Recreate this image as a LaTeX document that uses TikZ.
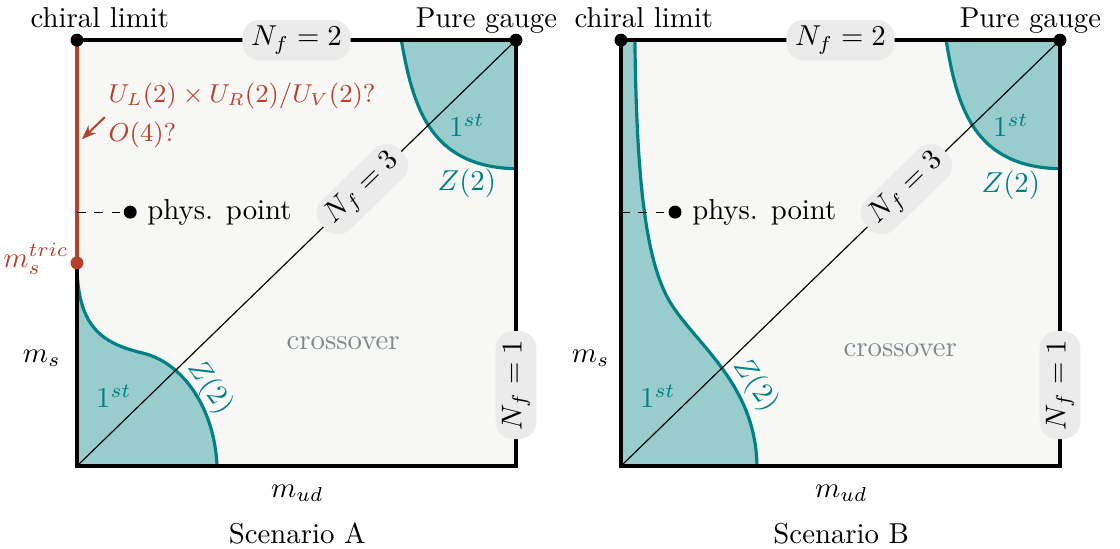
\documentclass[tikz,border=0pt]{standalone}
\usepackage{amsmath,amssymb}
\usepackage{xcolor}
\usetikzlibrary{positioning, calc, arrows.meta}
\definecolor{cT}{RGB}{0,128,128}
\definecolor{cR}{RGB}{181,64,43}
\definecolor{cG}{RGB}{128,138,136}
\definecolor{cB}{RGB}{247,247,245}
\definecolor{cL}{RGB}{235,235,235}

\begin{document}
\begin{tikzpicture}[
    border/.style={line width=1.6pt},
    nflabel/.style={fill=cL, rounded corners=6pt, inner xsep=3pt, inner ysep=2.2pt},
    dot/.style={circle, fill=black, inner sep=0pt, minimum size=4.5pt},
    crit/.style={draw=cT, line width=1.1pt},
    firstorder/.style={fill=cT!40},
    tlabel/.style={text=cT}]

    \useasboundingbox (-0.94,-1.013) rectangle (12.735,5.69);

    % Scenario A
    \coordinate (BLA) at (0,0);
    \coordinate (BRA) at (5.36,0);
    \coordinate (TRA) at (5.36,5.2);
    \coordinate (TLA) at (0,5.2);
    \coordinate (MTA) at (0,2.48);
    \coordinate (PPA) at (0.65,3.10);
    \coordinate (PLA) at (0,3.10);
    \coordinate (ARA) at (0.34,4.26);
    \coordinate (AHA) at (0.06,3.99);

    \fill[cB] (BLA) rectangle (TRA);

    % first order regions
    \fill[firstorder] (MTA) .. controls (0,1.7) and (0.3,1.5) .. (0.8,1.38)
        .. controls (1.3,1.26) and (1.68,0.7) .. (1.71,0) -- (BLA) -- cycle;
    \draw[crit] (MTA) .. controls (0,1.7) and (0.3,1.5) .. (0.8,1.38)
        .. controls (1.3,1.26) and (1.68,0.7) .. (1.71,0);
    \fill[firstorder] (3.96,5.2) .. controls (4.1,4.4) and (4.3,3.65) .. (5.36,3.63) -- (TRA) -- cycle;
    \draw[crit] (3.96,5.2) .. controls (4.1,4.4) and (4.3,3.65) .. (5.36,3.63);

    % Nf lines
    \draw[line width=0.4pt] (BLA) -- node[nflabel, sloped, pos=0.65] {$N_f=3$} (TRA);
    \draw[border] (MTA) -- (BLA) -- (BRA)
        -- node[nflabel, sloped, pos=0.19] {$N_f=1$} (TRA)
        -- node[nflabel] {$N_f=2$} (TLA);
    \draw[border, cR] (TLA) -- (MTA);
    \draw[dashed] (PLA) -- (PPA);
    \draw[cR, line width=0.7pt, -{Stealth[length=5pt]}] (ARA) -- (AHA);

    % points
    \node[dot] (chiralA) at (TLA) {};
    \node[dot] (gaugeA) at (TRA) {};
    \node[dot, fill=cR] (tricA) at (MTA) {};
    \node[dot] (physA) at (PPA) {};

    % labels
    \node[anchor=base] at (0.28,5.36) {chiral limit};
    \node[anchor=base] at (5.0,5.36) {Pure gauge};
    \node[right=0pt of physA] {phys. point};
    \node[anchor=base east, text=cR, inner sep=1pt] at (-0.06,2.43) {$m_s^{tric}$};
    \node[anchor=base west, text=cR, inner sep=0pt, font=\small] at (0.38,4.44) {$U_L(2)\times U_R(2)/U_V(2)?$};
    \node[anchor=base west, text=cR, inner sep=0pt, font=\small] at (0.38,3.96) {$O(4)?$};
    \node[tlabel] at (0.45,0.85) {$1^{st}$};
    \node[tlabel, rotate=-55] at (1.62,0.96) {$Z(2)$};
    \node[tlabel] at (4.76,4.16) {$1^{st}$};
    \node[tlabel] at (4.76,3.45) {$Z(2)$};
    \node[text=cG, anchor=base] at (3.25,1.42) {crossover};
    \node[anchor=base] at (-0.43,1.27) {$m_s$};
    \node[anchor=base] at (2.69,-0.38) {$m_{ud}$};
    \node[anchor=base] at (2.69,-0.95) {Scenario A};

    % Scenario B
    \begin{scope}[xshift=6.642cm]
    \coordinate (BLB) at (0,0);
    \coordinate (BRB) at (5.36,0);
    \coordinate (TRB) at (5.36,5.2);
    \coordinate (TLB) at (0,5.2);
    \coordinate (PPB) at (0.66,3.10);
    \coordinate (PLB) at (0,3.10);

    \fill[cB] (BLB) rectangle (TRB);

    % first order regions
    \fill[firstorder] (0.17,5.2) .. controls (0.19,3.5) and (0.3,2.5) .. (0.6,2.0)
        .. controls (0.9,1.5) and (1.65,1.0) .. (1.66,0) -- (BLB) -- (TLB) -- cycle;
    \draw[crit] (0.17,5.2) .. controls (0.19,3.5) and (0.3,2.5) .. (0.6,2.0)
        .. controls (0.9,1.5) and (1.65,1.0) .. (1.66,0);
    \fill[firstorder] (3.97,5.2) .. controls (4.1,4.4) and (4.3,3.65) .. (5.36,3.63) -- (TRB) -- cycle;
    \draw[crit] (3.97,5.2) .. controls (4.1,4.4) and (4.3,3.65) .. (5.36,3.63);

    % Nf lines
    \draw[line width=0.4pt] (BLB) -- node[nflabel, sloped, pos=0.65] {$N_f=3$} (TRB);
    \draw[border] (TLB) -- (BLB) -- (BRB)
        -- node[nflabel, sloped, pos=0.19] {$N_f=1$} (TRB)
        -- node[nflabel] {$N_f=2$} (TLB);
    \draw[dashed] (PLB) -- (PPB);

    % points
    \node[dot] (chiralB) at (TLB) {};
    \node[dot] (gaugeB) at (TRB) {};
    \node[dot] (physB) at (PPB) {};

    % labels
    \node[anchor=base] at (0.28,5.36) {chiral limit};
    \node[anchor=base] at (5.0,5.36) {Pure gauge};
    \node[right=0pt of physB] {phys. point};
    \node[tlabel] at (0.45,0.85) {$1^{st}$};
    \node[tlabel, rotate=-55] at (1.64,0.99) {$Z(2)$};
    \node[tlabel] at (4.76,4.16) {$1^{st}$};
    \node[tlabel] at (4.76,3.43) {$Z(2)$};
    \node[text=cG, anchor=base] at (3.41,1.34) {crossover};
    \node[anchor=base] at (-0.37,1.27) {$m_s$};
    \node[anchor=base] at (2.69,-0.38) {$m_{ud}$};
    \node[anchor=base] at (2.69,-0.95) {Scenario B};
    \end{scope}
\end{tikzpicture}
\end{document}
